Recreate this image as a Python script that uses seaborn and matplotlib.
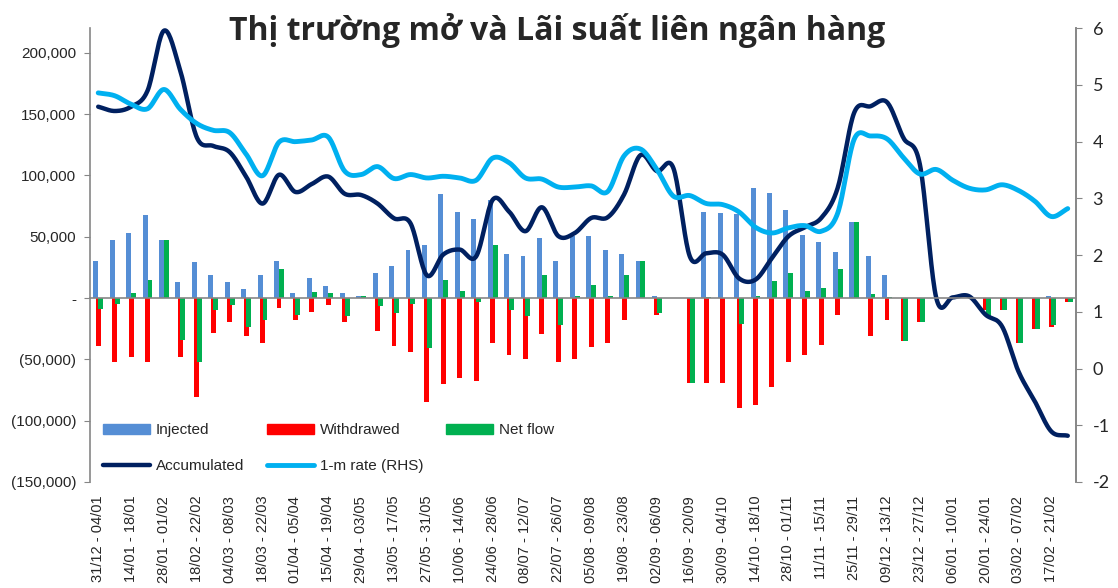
import numpy as np
import pandas as pd
import matplotlib
matplotlib.use("Agg")
import matplotlib.pyplot as plt
from matplotlib.patches import Patch
from matplotlib.lines import Line2D
from matplotlib.ticker import FuncFormatter, FixedLocator
import seaborn as sns

### Data

weeks = ["31/12 - 04/01", "07/01 - 11/01", "14/01 - 18/01", "21/01 - 25/01", "28/01 - 01/02",
         "11/02 - 15/02", "18/02 - 22/02", "25/02 - 01/03", "04/03 - 08/03", "11/03 - 15/03",
         "18/03 - 22/03", "25/03 - 29/03", "01/04 - 05/04", "08/04 - 12/04", "15/04 - 19/04",
         "22/04 - 26/04", "29/04 - 03/05", "06/05 - 10/05", "13/05 - 17/05", "20/05 - 24/05",
         "27/05 - 31/05", "03/06 - 07/06", "10/06 - 14/06", "17/06 - 21/06", "24/06 - 28/06",
         "01/07 - 05/07", "08/07 - 12/07", "15/07 - 19/07", "22/07 - 26/07", "29/07 - 02/08",
         "05/08 - 09/08", "12/08 - 16/08", "19/08 - 23/08", "26/08 - 30/08", "02/09 - 06/09",
         "09/09 - 13/09", "16/09 - 20/09", "23/09 - 27/09", "30/09 - 04/10", "07/10 - 11/10",
         "14/10 - 18/10", "21/10 - 25/10", "28/10 - 01/11", "04/11 - 08/11", "11/11 - 15/11",
         "18/11 - 22/11", "25/11 - 29/11", "02/12 - 06/12", "09/12 - 13/12", "16/12 - 20/12",
         "23/12 - 27/12", "30/12 - 03/01", "06/01 - 10/01", "13/01 - 17/01", "20/01 - 24/01",
         "27/01 - 31/01", "03/02 - 07/02", "10/02 - 14/02", "17/02 - 21/02", "24/02 - 28/02"]

injected = [30000, 47500, 53000, 67500, 47500, 13000, 29000, 19000, 13000, 7500,
            19000, 30000, 4500, 16000, 10000, 4500, 2000, 20000, 26000, 39000,
            43000, 84500, 70000, 64500, 80000, 36000, 34500, 49000, 30000, 50500,
            50500, 39000, 36000, 30000, 1500, 0, 0, 70000, 69000, 68500,
            90000, 85500, 71500, 51500, 46000, 37500, 62000, 34500, 19000, 0,
            0, 0, 0, 0, 0, 0, 0, 0, 1500, 0]

withdrawed = [-39000, -52000, -48000, -52000, 0, -48000, -81000, -28500, -19500, -31000,
              -36500, -8000, -18000, -11000, -5500, -19500, 0, -26500, -39000, -44000,
              -85000, -70500, -65000, -68000, -36500, -46500, -49500, -29500, -52000, -49500,
              -40000, -37000, -18000, 0, -14000, 0, -69000, -69000, -69000, -89500,
              -87500, -72500, -52000, -46500, -38000, -14000, 0, -31000, -18000, -35000,
              -19500, 0, 0, 0, -10000, -9500, -36500, -25000, -23500, -3500]

net_flow = [-9000, -5000, 4500, 14500, 47500, -34000, -52000, -9500, -5500, -23500,
            -18000, 23500, -14000, 5000, 4500, -15000, 2000, -6500, -12500, -5000,
            -41000, 14500, 5500, -3500, 43500, -10000, -14500, 19000, -22000, 1500,
            10500, 2000, 18500, 30000, -12500, 0, -69000, 1000, 0, -21000,
            2000, 13500, 20000, 5500, 8000, 24000, 62000, 3500, 1000, -35000,
            -19500, 0, 0, 0, -14500, -9500, -36500, -25000, -22000, -3500]

accumulated = [156000, 152500, 156000, 169000, 218000, 185000, 131000, 124000, 119000, 99000,
               77000, 100500, 86500, 93000, 99000, 85000, 84000, 77000, 65000, 61000,
               18500, 35500, 39500, 34000, 80000, 70500, 54500, 74000, 50500, 53000,
               65300, 65800, 84400, 116500, 103500, 106000, 34000, 36500, 35400, 16000,
               15000, 32600, 50300, 57700, 65300, 89800, 151000, 156400, 159700, 130600,
               109000, 0, 500, 1400, -13600, -23100, -59800, -84300, -108800, -112300]

rate_1m = [4.86, 4.81, 4.66, 4.58, 4.92, 4.57, 4.32, 4.20, 4.16, 3.78,
           3.40, 3.99, 4.00, 4.03, 4.08, 3.48, 3.42, 3.56, 3.35, 3.42,
           3.36, 3.39, 3.36, 3.32, 3.71, 3.63, 3.36, 3.34, 3.20, 3.20,
           3.22, 3.12, 3.75, 3.87, 3.51, 3.04, 3.05, 2.91, 2.89, 2.76,
           2.49, 2.39, 2.48, 2.52, 2.42, 2.74, 4.04, 4.10, 4.05, 3.72,
           3.43, 3.51, 3.32, 3.18, 3.15, 3.24, 3.14, 2.95, 2.68, 2.82]

TITLE = "Thị trường mở và Lãi suất liên ngân hàng"

### Helpers

def smooth(x, y, n=20):
    """Excel-like smoothed line (uniform Catmull-Rom through every point)"""
    x = np.asarray(x, float)
    y = np.asarray(y, float)
    res = []
    for p in (x, y):
        p = np.concatenate([[2 * p[0] - p[1]], p, [2 * p[-1] - p[-2]]])
        t = np.linspace(0, 1, n, endpoint=False)[:, None]
        p0, p1, p2, p3 = p[:-3], p[1:-2], p[2:-1], p[3:]
        seg = 0.5 * (2 * p1 + (-p0 + p2) * t + (2 * p0 - 5 * p1 + 4 * p2 - p3) * t ** 2
                     + (-p0 + 3 * p1 - 3 * p2 + p3) * t ** 3)
        res.append(np.append(seg.T.ravel(), p[-2]))
    return res[0], res[1]

def thousands(v, _):
    if abs(v) < 1:
        return "-"
    if v < 0:
        return "({:,.0f})".format(-v)
    return "{:,.0f}".format(v)

### Plot

sns.set_style("white")
plt.rcParams["font.family"] = ["Liberation Sans", "DejaVu Sans"]
plt.rcParams["axes.unicode_minus"] = False

C_INJ, C_WD, C_NET = "#558ED5", "#FF0000", "#00B050"
C_ACC, C_RATE = "#002060", "#00B0F0"
GREY = "#868686"

fig = plt.figure(figsize=(11.18, 5.88), dpi=100)
ax = fig.add_axes([0.0805, 0.1803, 0.8819, 0.7717])
ax2 = ax.twinx()

idx = np.arange(len(weeks))
for vals, off, col in [(injected, -0.15, C_INJ), (withdrawed, 0.0, C_WD), (net_flow, 0.15, C_NET)]:
    sns.barplot(x=idx + off, y=vals, native_scale=True, width=0.3, color=col,
                saturation=1, errorbar=None, ax=ax, linewidth=0)

sx, sy = smooth(idx, accumulated)
sns.lineplot(x=sx, y=sy, color=C_ACC, linewidth=3.2, ax=ax, sort=False)
rx, ry = smooth(idx, rate_1m)
sns.lineplot(x=rx, y=ry, color=C_RATE, linewidth=3.5, ax=ax2, sort=False)

# left axis
ax.set_xlim(-0.5, len(weeks) - 0.5)
ax.set_ylim(-150000, 220000)
ax.yaxis.set_major_locator(FixedLocator(np.arange(-150000, 200001, 50000)))
ax.yaxis.set_major_formatter(FuncFormatter(thousands))
ax.tick_params(axis="y", direction="out", length=4, color=GREY, labelsize=11, pad=6)

# category axis crosses at zero, labels stay at the bottom
ax.spines["bottom"].set_position(("data", 0))
ax.set_xticks(idx[:-1] + 0.5)
ax.tick_params(axis="x", direction="out", length=4, color=GREY, labelbottom=False)
lab = ax.secondary_xaxis("bottom")
lab.set_xticks(idx[::2], [weeks[i] for i in idx[::2]], rotation=90, fontsize=10.5)
lab.tick_params(length=0, pad=10)
lab.spines["bottom"].set_visible(False)

# right axis
ax2.set_ylim(-2, 6)
ax2.set_yticks(np.arange(-2, 7, 1))
ax2.tick_params(axis="y", direction="out", length=4, color=GREY, labelsize=13, pad=8)
for t in ax2.get_yticklabels():
    t.set_family("Lato")

for a in (ax, ax2):
    a.set_xlabel("")
    a.set_ylabel("")
    a.spines["top"].set_visible(False)
    for s in a.spines.values():
        s.set_color(GREY)
        s.set_linewidth(1.2)
ax2.spines["bottom"].set_visible(False)
ax2.spines["left"].set_visible(False)

fig.text(0.498, 0.948, TITLE, ha="center", va="center", fontsize=23, fontweight="bold",
         family=["Open Sans", "DejaVu Sans"])

handles = [Patch(color=C_INJ, label="Injected"),
           Line2D([], [], color=C_ACC, lw=3.2, label="Accumulated"),
           Patch(color=C_WD, label="Withdrawed"),
           Line2D([], [], color=C_RATE, lw=3.5, label="1-m rate (RHS)"),
           Patch(color=C_NET, label="Net flow")]
fig.legend(handles=handles, ncol=3, frameon=False, loc="upper left",
           bbox_to_anchor=(0.092, 0.280), bbox_transform=fig.transFigure,
           fontsize=11, handlelength=3.1, handleheight=0.55, handletextpad=0.35,
           columnspacing=1.5, labelspacing=1.4, borderpad=0, borderaxespad=0)

plt.savefig("out.png", dpi=100)
